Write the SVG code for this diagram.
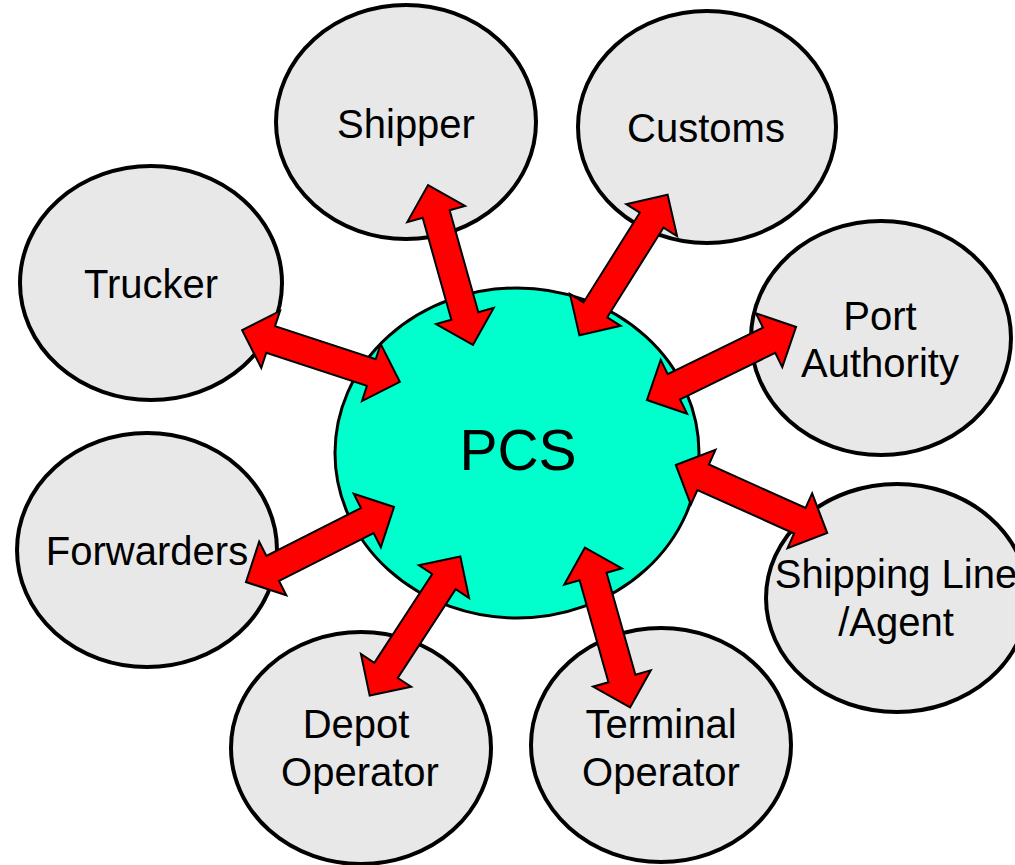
<svg xmlns="http://www.w3.org/2000/svg" xmlns:xlink="http://www.w3.org/1999/xlink" width="1015" height="865" viewBox="0 0 1015 865">
<style>
.node{fill:#e8e8e8;stroke:#000;stroke-width:4}
.hub{fill:#00ffcc;stroke:#000;stroke-width:3}
.lbl{font-family:"Liberation Sans",Arial,sans-serif;font-size:40px;fill:#000;text-anchor:middle}
.big{font-family:"Liberation Sans",Arial,sans-serif;font-size:57px;fill:#000;text-anchor:middle}
.arr{fill:#ff0000;stroke:#000;stroke-width:2;stroke-linejoin:miter}
</style>
<defs>
<path id="dbl" d="M -83,0 L -53,-30 L -53,-14 L 53,-14 L 53,-30 L 83,0 L 53,30 L 53,14 L -53,14 L -53,30 Z"/>
</defs>
<rect width="1015" height="865" fill="#fff"/>
<g id="pcs"><ellipse class="hub" cx="517" cy="453" rx="182" ry="165"/><text class="big" x="518" y="470">PCS</text></g>
<g id="shipper"><ellipse class="node" cx="406" cy="122" rx="130" ry="117"/><text class="lbl" x="406" y="138">Shipper</text></g>
<g id="customs"><ellipse class="node" cx="707" cy="127" rx="129" ry="116"/><text class="lbl" x="706" y="142">Customs</text></g>
<g id="trucker"><ellipse class="node" cx="151" cy="283" rx="131" ry="117"/><text class="lbl" x="151" y="298">Trucker</text></g>
<g id="port-authority"><ellipse class="node" cx="881" cy="338" rx="130" ry="117"/><text class="lbl" x="880" y="330">Port</text><text class="lbl" x="880" y="377">Authority</text></g>
<g id="forwarders"><ellipse class="node" cx="147" cy="550" rx="130" ry="117"/><text class="lbl" x="147" y="565">Forwarders</text></g>
<g id="shipping-line"><ellipse class="node" cx="897" cy="598" rx="131" ry="114"/><text class="lbl" x="896" y="588">Shipping Line</text><text class="lbl" x="896" y="636">/Agent</text></g>
<g id="depot-operator"><ellipse class="node" cx="361" cy="748" rx="130" ry="116"/><text class="lbl" x="356" y="738">Depot</text><text class="lbl" x="360" y="786">Operator</text></g>
<g id="terminal-operator"><ellipse class="node" cx="661" cy="745" rx="130" ry="117"/><text class="lbl" x="661" y="738">Terminal</text><text class="lbl" x="661" y="786">Operator</text></g>
<g id="connectors">
<use xlink:href="#dbl" href="#dbl" class="arr" transform="translate(450.5,265) rotate(74.3)"/>
<use xlink:href="#dbl" href="#dbl" class="arr" transform="translate(623.5,265) rotate(122.1)"/>
<use xlink:href="#dbl" href="#dbl" class="arr" transform="translate(321,356) rotate(18.2)"/>
<use xlink:href="#dbl" href="#dbl" class="arr" transform="translate(721.5,363.5) rotate(153.9)"/>
<use xlink:href="#dbl" href="#dbl" class="arr" transform="translate(751.5,499) rotate(24.2)"/>
<use xlink:href="#dbl" href="#dbl" class="arr" transform="translate(320,544.5) rotate(153.1)"/>
<use xlink:href="#dbl" href="#dbl" class="arr" transform="translate(415,626) rotate(123.1)"/>
<use xlink:href="#dbl" href="#dbl" class="arr" transform="translate(607.5,627.5) rotate(74.2)"/>
</g>
</svg>
